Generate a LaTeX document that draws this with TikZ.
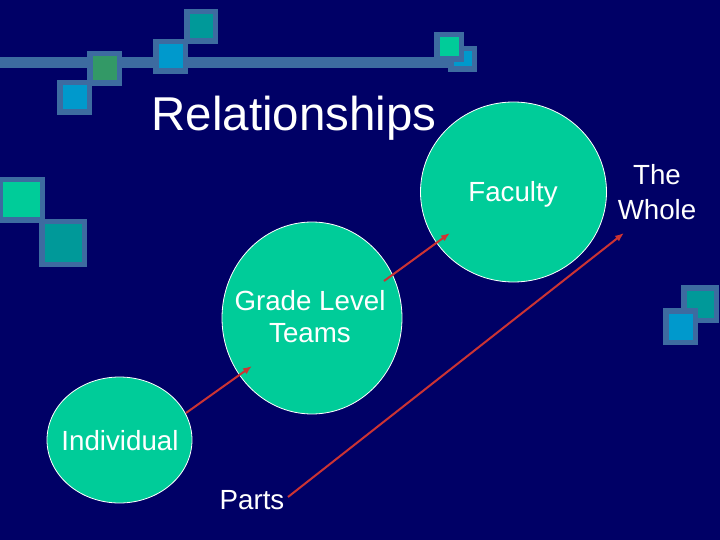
\documentclass[tikz,border=0pt]{standalone}
\usepackage{fontspec}
\setmainfont{Liberation Sans}
\usetikzlibrary{shapes.geometric,arrows.meta,calc}
\definecolor{bgnavy}{HTML}{000066}
\definecolor{framec}{HTML}{3D6BA0}
\definecolor{sqblue}{HTML}{0099CC}
\definecolor{sqteal}{HTML}{009999}
\definecolor{sqgreen}{HTML}{339966}
\definecolor{sqbright}{HTML}{00CC99}
\definecolor{circfill}{HTML}{00CC99}
\definecolor{arrred}{HTML}{CC3333}
\newcommand\decosq[5]{%
  \fill[framec] (#1,#2) rectangle (#3,#4);
  \fill[#5] ($(#1,#2)+(5.5,5.5)$) rectangle ($(#3,#4)+(-5.5,-5.5)$);}
\begin{document}
\begin{tikzpicture}[x=1pt,y=-1pt,
  bubble/.style={ellipse,draw=white,line width=0.8pt,fill=circfill,inner sep=0pt,outer sep=0pt},
  lbl/.style={text=white,align=center,inner sep=0pt,font=\fontsize{27.7}{32}\selectfont},
  conn/.style={draw=arrred,line width=2pt,-{Latex[length=9pt,width=7pt]}}]
\fill[bgnavy] (0,0) rectangle (720,540);
\useasboundingbox (0,0) rectangle (720,540);
% decorative bar and squares
\fill[framec] (0,57) rectangle (462,68);
\decosq{57}{80}{92}{115}{sqblue}
\decosq{87}{51}{122}{86}{sqgreen}
\decosq{153}{39}{188}{74}{sqblue}
\decosq{184}{9}{218}{44}{sqteal}
\decosq{448}{46}{477}{72}{sqblue}
\decosq{434}{32}{464}{62}{sqbright}
\decosq{-3}{177}{45}{223}{sqbright}
\decosq{39}{219}{87}{267}{sqteal}
\decosq{681}{285}{719}{323}{sqteal}
\decosq{663}{308}{698}{345}{sqblue}
% title
\node[lbl,anchor=base,font=\fontsize{47.5}{55}\selectfont] (title) at (294,131) {Relationships};
% circles
\node[bubble,minimum width=186pt,minimum height=180pt] (fac) at (513.5,192) {};
\node[bubble,minimum width=180pt,minimum height=192pt] (grade) at (312,318) {};
\node[bubble,minimum width=145pt,minimum height=126pt] (ind) at (119.5,440) {};
% circle texts
\node[lbl,anchor=base] (factxt) at (513,202) {Faculty};
\node[lbl] (gradetxt) at (310,317) {Grade Level\\Teams};
\node[lbl,anchor=base] (indtxt) at (120,450) {Individual};
% labels
\node[lbl,anchor=base] (parts) at (252,509) {Parts};
\node[lbl,font=\fontsize{27.7}{35}\selectfont] (whole) at (657,192) {The\\Whole};
% arrow end points
\coordinate (a1s) at (186,413);
\coordinate (a1e) at (252,366);
\coordinate (a2s) at (384,281);
\coordinate (a2e) at (450,233);
\coordinate (a3s) at (288,497);
\coordinate (a3e) at (624,233);
\draw[conn] (a1s) -- (a1e);
\draw[conn] (a2s) -- (a2e);
\draw[conn] (a3s) -- (a3e);
\end{tikzpicture}
\end{document}
